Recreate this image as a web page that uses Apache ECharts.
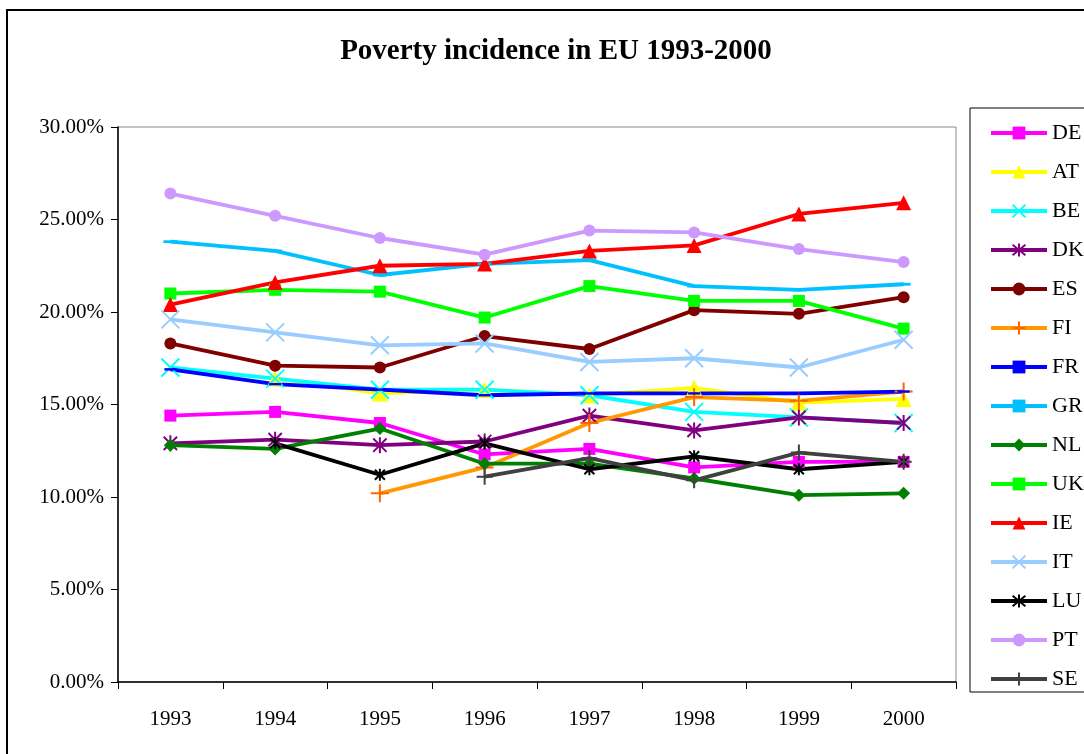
<!DOCTYPE html>
<html>
<head>
<meta charset="utf-8">
<script src="https://cdn.jsdelivr.net/npm/echarts@6/dist/echarts.min.js"></script>
<style>
  html, body { margin: 0; padding: 0; background: #fff; }
  #chart { width: 1084px; height: 754px; }
</style>
</head>
<body>
<div id="chart"></div>
<script>
// years and poverty rates (%)
const years = ["1993", "1994", "1995", "1996", "1997", "1998", "1999", "2000"];
const yTicks = [0, 5, 10, 15, 20, 25, 30];

const DE = [14.4, 14.6, 14.0, 12.3, 12.6, 11.6, 11.9, 11.9];
const AT = [null, 16.4, 15.6, 15.8, 15.5, 15.9, 15.1, 15.3];
const BE = [17.0, 16.4, 15.8, 15.8, 15.5, 14.6, 14.3, 14.0];
const DK = [12.9, 13.1, 12.8, 13.0, 14.4, 13.6, 14.3, 14.0];
const ES = [18.3, 17.1, 17.0, 18.7, 18.0, 20.1, 19.9, 20.8];
const FI = [null, null, 10.2, 11.6, 14.0, 15.4, 15.2, 15.7];
const FR = [16.9, 16.1, 15.8, 15.5, 15.6, 15.6, 15.6, 15.7];
const GR = [23.8, 23.3, 22.0, 22.6, 22.8, 21.4, 21.2, 21.5];
const NL = [12.8, 12.6, 13.7, 11.8, 11.8, 11.0, 10.1, 10.2];
const UK = [21.0, 21.2, 21.1, 19.7, 21.4, 20.6, 20.6, 19.1];
const IE = [20.4, 21.6, 22.5, 22.6, 23.3, 23.6, 25.3, 25.9];
const IT = [19.6, 18.9, 18.2, 18.3, 17.3, 17.5, 17.0, 18.5];
const LU = [null, 12.9, 11.2, 12.9, 11.5, 12.2, 11.5, 11.9];
const PT = [26.4, 25.2, 24.0, 23.1, 24.4, 24.3, 23.4, 22.7];
const SE = [null, null, null, 11.1, 12.1, 10.9, 12.4, 11.9];

const FONT = "'Liberation Serif', 'DejaVu Serif', serif";
const X_PATH = "path://M0,0L10,10M10,0L0,10";
const STAR_PATH = "path://M0,0L10,10M10,0L0,10M5,-1L5,11";
const PLUS_PATH = "path://M0,5L10,5M5,0L5,10";
// short filled bar (a zero-height path breaks the legend icon scaling)
const DASH_PATH = "path://M0,0L10,0L10,2L0,2Z";

function mkSeries(name, data, color, symbol, size, markColor) {
  let stroked = symbol.indexOf("path://") === 0 && symbol !== DASH_PATH;
  let mc = markColor || color;
  return {
    name: name,
    type: "line",
    data: data,
    symbol: symbol,
    symbolSize: size,
    symbolKeepAspect: true,
    showSymbol: true,
    connectNulls: false,
    lineStyle: { color: color, width: 3.8 },
    itemStyle: stroked
      ? { color: mc, borderColor: mc, borderWidth: 2 }
      : { color: mc, borderWidth: 0 },
    emphasis: { disabled: true }
  };
}

let series = [
  mkSeries("DE", DE, "#FF00FF", "rect", 12),
  mkSeries("AT", AT, "#FFFF00", "triangle", 16),
  mkSeries("BE", BE, "#00FFFF", X_PATH, 18),
  mkSeries("DK", DK, "#800080", STAR_PATH, 16),
  mkSeries("ES", ES, "#800000", "circle", 12),
  mkSeries("FI", FI, "#FF9900", PLUS_PATH, 18, "#FF6600"),
  mkSeries("FR", FR, "#0000FF", DASH_PATH, 12),
  mkSeries("GR", GR, "#00C0FF", DASH_PATH, 14),
  mkSeries("NL", NL, "#008000", "diamond", 13),
  mkSeries("UK", UK, "#00FF00", "rect", 12),
  mkSeries("IE", IE, "#FF0000", "triangle", 15),
  mkSeries("IT", IT, "#99CCFF", X_PATH, 18),
  mkSeries("LU", LU, "#000000", STAR_PATH, 12),
  mkSeries("PT", PT, "#CC99FF", "circle", 12),
  mkSeries("SE", SE, "#404040", PLUS_PATH, 16)
];

let myChart = echarts.init(document.getElementById("chart"));
let option = {
  animation: false,
  backgroundColor: "#fff",
  title: {
    text: "Poverty incidence in EU 1993-2000",
    left: 551,
    top: 32,
    textAlign: "center",
    textStyle: { fontFamily: FONT, fontSize: 29, fontWeight: "bold", color: "#000" }
  },
  graphic: [
    {
      type: "rect",
      shape: { x: 7, y: 10, width: 1100, height: 780 },
      style: { fill: "none", stroke: "#000", lineWidth: 2 },
      silent: true
    },
    {
      type: "rect",
      shape: { x: 970, y: 108, width: 130, height: 584 },
      style: { fill: "none", stroke: "#000", lineWidth: 1 },
      silent: true
    }
  ],
  legend: {
    orient: "vertical",
    left: 984,
    top: 117,
    itemWidth: 56,
    itemHeight: 16,
    itemGap: 17,
    lineStyle: { width: 4 },
    data: series.map(function (s) { return s.name; }),
    textStyle: { fontFamily: FONT, fontSize: 22, color: "#000", lineHeight: 16 }
  },
  grid: {
    left: 118,
    top: 127,
    right: 128,
    bottom: 72,
    show: true,
    borderColor: "#888",
    borderWidth: 1,
    containLabel: false
  },
  xAxis: {
    type: "category",
    data: years,
    boundaryGap: true,
    axisLine: { lineStyle: { color: "#000", width: 1.5 } },
    axisTick: { show: true, length: 7, inside: false, lineStyle: { color: "#000" } },
    axisLabel: { fontFamily: FONT, fontSize: 21, color: "#000", margin: 27 },
    splitLine: { show: false }
  },
  yAxis: {
    type: "value",
    min: yTicks[0],
    max: yTicks[yTicks.length - 1],
    interval: 5,
    axisLine: { show: true, lineStyle: { color: "#000", width: 1.5 } },
    axisTick: { show: true, length: 7, lineStyle: { color: "#000" } },
    axisLabel: {
      fontFamily: FONT,
      fontSize: 21,
      color: "#000",
      margin: 14,
      formatter: function (v) { return v.toFixed(2) + "%"; }
    },
    splitLine: { show: false }
  },
  series: series
};

if (option && typeof option === "object") myChart.setOption(option);
window.addEventListener("resize", function () {
  myChart.resize();
});
</script>
</body>
</html>
